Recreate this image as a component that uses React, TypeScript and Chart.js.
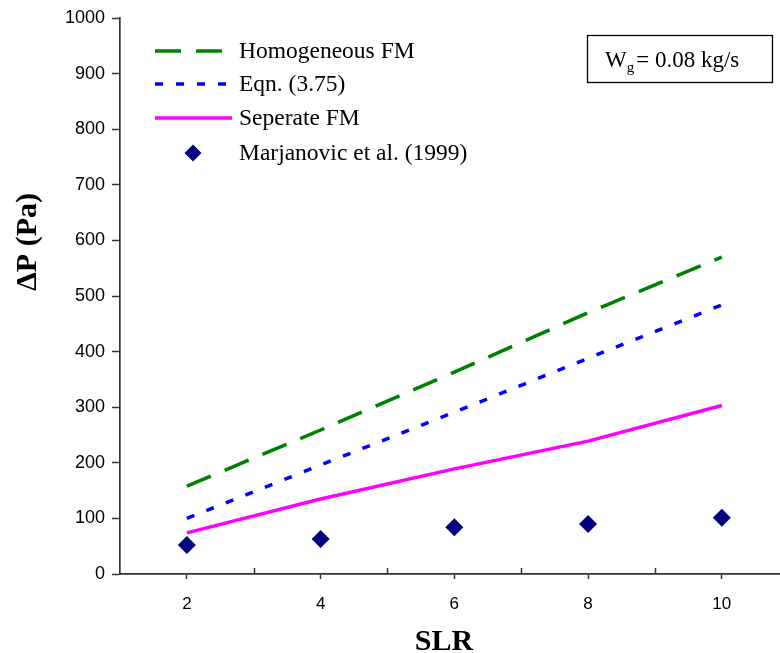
import React, { useEffect, useRef } from "react";
import { Chart, registerables } from "chart.js";

Chart.register(...registerables);

const slr = [2, 4, 6, 8, 10];
const homogeneousFM = [158, 259, 363, 470, 570];
const eqn375 = [100, 196, 291, 388, 484];
const separateFM = [74, 135, 189, 239, 303];
const marjanovic = [52, 63, 84, 90, 101];
const xLabelTicks = [2, 4, 6, 8, 10];
const xMinorTicks = [3, 5, 7, 9];
const seriesNames = ["Homogeneous FM", "Eqn. (3.75)", "Seperate FM", "Marjanovic et al. (1999)"];

const toXY = (ys: number[]) => slr.map((x, i) => ({ x, y: ys[i] }));

const AXIS_COLOR = "#333333";

const decorPlugin = {
  id: "decor",
  afterDraw(chart: any) {
    const { ctx, chartArea, scales } = chart;
    const xs = scales.x;
    ctx.save();
    // inside minor ticks on the x axis
    ctx.strokeStyle = AXIS_COLOR;
    ctx.lineWidth = 1.5;
    xMinorTicks.forEach((v) => {
      const px = Math.round(xs.getPixelForValue(v)) + 0.5;
      ctx.beginPath();
      ctx.moveTo(px, chartArea.bottom);
      ctx.lineTo(px, chartArea.bottom - 6);
      ctx.stroke();
    });

    // legend inside plot
    const lx0 = chartArea.left + 35;
    const lx1 = chartArea.left + 112;
    const tx = chartArea.left + 119;
    const rows = [chartArea.top + 33, chartArea.top + 66, chartArea.top + 100, chartArea.top + 135];
    ctx.font = "23.5px 'Liberation Serif', 'Times New Roman', serif";
    ctx.textBaseline = "middle";
    ctx.textAlign = "left";
    chart.data.datasets.forEach((ds: any, i: number) => {
      const y = rows[i];
      if (ds.showLine === false) {
        const cx = chartArea.left + 73;
        const r = 8.5;
        ctx.fillStyle = ds.backgroundColor;
        ctx.beginPath();
        ctx.moveTo(cx, y - r);
        ctx.lineTo(cx + r, y);
        ctx.lineTo(cx, y + r);
        ctx.lineTo(cx - r, y);
        ctx.closePath();
        ctx.fill();
      } else {
        ctx.strokeStyle = ds.borderColor;
        ctx.lineWidth = ds.borderWidth;
        ctx.setLineDash(ds.borderDash || []);
        ctx.lineCap = "butt";
        ctx.beginPath();
        ctx.moveTo(lx0, y);
        ctx.lineTo(lx1, y);
        ctx.stroke();
        ctx.setLineDash([]);
      }
      ctx.fillStyle = "#000";
      ctx.fillText(ds.label, tx, y + 1);
    });

    // annotation box
    const bx = chartArea.right - 193;
    const by = chartArea.top + 17;
    ctx.strokeStyle = "#000";
    ctx.lineWidth = 1.3;
    ctx.strokeRect(bx + 0.5, by + 0.5, 185, 47);
    ctx.fillStyle = "#000";
    ctx.textBaseline = "alphabetic";
    ctx.font = "23px 'Liberation Serif', 'Times New Roman', serif";
    let cx = bx + 18;
    const base = by + 32;
    ctx.fillText("W", cx, base);
    cx += ctx.measureText("W").width;
    ctx.font = "15px 'Liberation Serif', 'Times New Roman', serif";
    ctx.fillText("g", cx, base + 5);
    cx += ctx.measureText("g").width + 2;
    ctx.font = "23px 'Liberation Serif', 'Times New Roman', serif";
    ctx.fillText("= 0.08 kg/s", cx, base);

    // axis titles
    ctx.font = "bold 30px 'Liberation Serif', 'Times New Roman', serif";
    ctx.textAlign = "center";
    ctx.textBaseline = "middle";
    ctx.save();
    ctx.translate(chartArea.left - 92, chartArea.top + 224);
    ctx.rotate(-Math.PI / 2);
    ctx.fillText("ΔP (Pa)", 0, 0);
    ctx.restore();
    ctx.textBaseline = "alphabetic";
    ctx.fillText("SLR", chartArea.left + 324, chartArea.bottom + 76);
    ctx.restore();
  },
};

export default function App() {
  const ref = useRef<HTMLCanvasElement>(null);
  useEffect(() => {
    if (!ref.current) return;
    const chart = new Chart(ref.current, {
      type: "line",
      data: {
        datasets: [
          {
            label: seriesNames[0],
            data: toXY(homogeneousFM),
            borderColor: "#008000",
            backgroundColor: "#008000",
            borderWidth: 3.5,
            borderDash: [26, 15],
            pointRadius: 0,
          },
          {
            label: seriesNames[1],
            data: toXY(eqn375),
            borderColor: "#0000FF",
            backgroundColor: "#0000FF",
            borderWidth: 3.5,
            borderDash: [8, 13],
            pointRadius: 0,
          },
          {
            label: seriesNames[2],
            data: toXY(separateFM),
            borderColor: "#FF00FF",
            backgroundColor: "#FF00FF",
            borderWidth: 3.5,
            pointRadius: 0,
          },
          {
            label: seriesNames[3],
            data: toXY(marjanovic),
            showLine: false,
            borderColor: "#000080",
            backgroundColor: "#000080",
            pointStyle: "rectRot",
            pointRadius: 9,
            pointBorderWidth: 0,
          },
        ] as any,
      },
      options: {
        responsive: false,
        animation: false,
        layout: { autoPadding: false, padding: { top: 18, right: 0, left: 0, bottom: 0 } },
        plugins: { legend: { display: false }, tooltip: { enabled: false } },
        scales: {
          x: {
            type: "linear",
            min: 1,
            max: 10.87,
            afterBuildTicks: (s: any) => {
              s.ticks = xLabelTicks.map((v) => ({ value: v }));
            },
            afterFit: (s: any) => {
              s.height = 79;
              s.paddingLeft = 0;
              s.paddingRight = 0;
            },
            ticks: {
              color: "#000",
              font: { family: "'Liberation Sans', Arial, sans-serif", size: 17 },
              padding: 15,
            },
            grid: {
              drawOnChartArea: false,
              tickLength: 5,
              tickColor: AXIS_COLOR,
              tickWidth: 1.5,
            },
            border: { color: AXIS_COLOR, width: 1.7 },
          },
          y: {
            type: "linear",
            min: 0,
            max: 1000,
            afterFit: (s: any) => {
              s.width = 120;
              s.paddingTop = 0;
              s.paddingBottom = 0;
            },
            ticks: {
              stepSize: 100,
              color: "#000",
              font: { family: "'Liberation Sans', Arial, sans-serif", size: 18 },
              padding: 7,
              callback: (v: any) => String(v),
            },
            grid: {
              drawOnChartArea: false,
              tickLength: 8,
              tickColor: AXIS_COLOR,
              tickWidth: 1.5,
            },
            border: { color: AXIS_COLOR, width: 1.7 },
          },
        },
      },
      plugins: [decorPlugin],
    });
    return () => chart.destroy();
  }, []);
  return (
    <div style={{ position: "fixed", left: 0, top: 0, width: 780, height: 653, background: "#fff" }}>
      <canvas ref={ref} width={780} height={653} style={{ width: 780, height: 653, display: "block" }} />
    </div>
  );
}
